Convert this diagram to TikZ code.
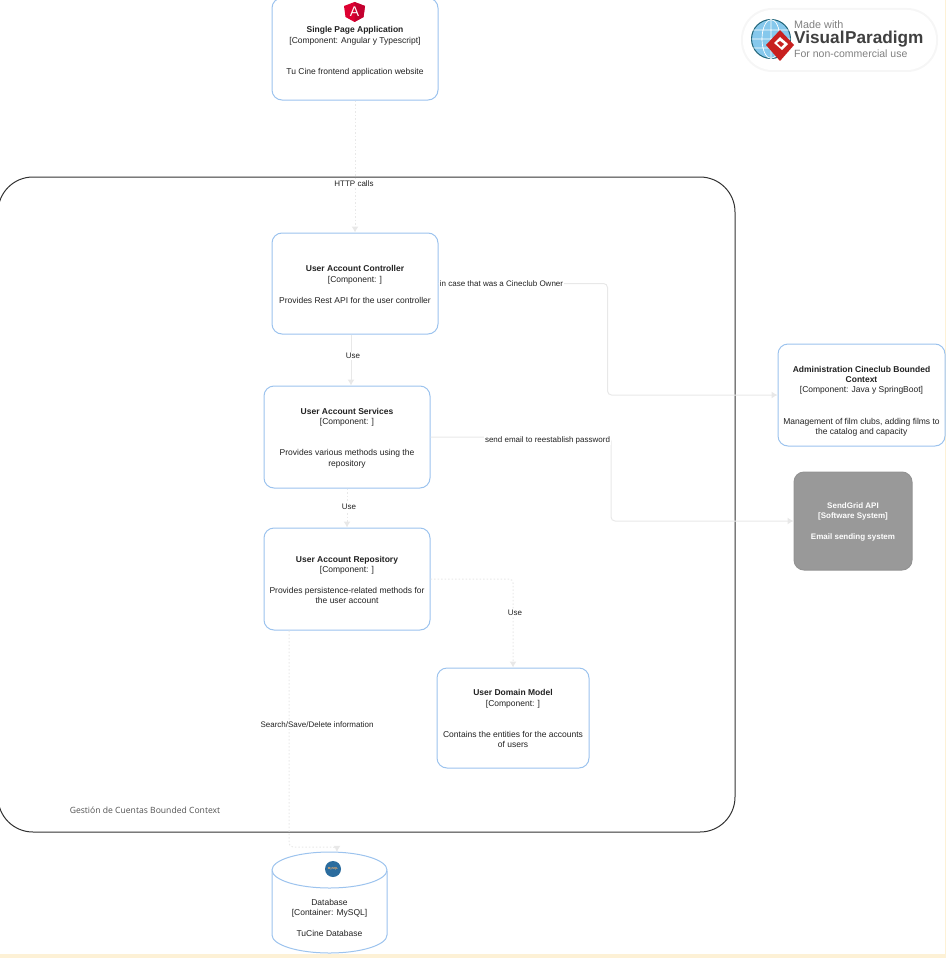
\documentclass[tikz,border=0pt]{standalone}
\usepackage{fontspec}
\setmainfont{Liberation Sans}
\newfontfamily\framefont{Open Sans}
\usetikzlibrary{arrows.meta}
\definecolor{boxblue}{HTML}{9CC3EE}
\definecolor{edgegray}{HTML}{E8E8E8}
\definecolor{framegray}{HTML}{333333}
\definecolor{inkgray}{HTML}{222222}
\definecolor{sendgray}{HTML}{999999}
\definecolor{stripcol}{HTML}{FDF1D6}
\definecolor{angularred}{HTML}{DD0031}
\definecolor{angulardark}{HTML}{C3002F}
\definecolor{mysqlblue}{HTML}{2B6C9E}
\definecolor{vpred}{HTML}{C8201F}
\definecolor{vpblue}{HTML}{86C8EC}
\definecolor{vpteal}{HTML}{1F6478}
\newcommand{\comptitle}[1]{\rule{0pt}{8pt}\textbf{#1}}
\tikzset{
    comp/.style={draw=boxblue,line width=1pt,fill=white,rounded corners=10pt,align=center,
        text=inkgray,font=\fontsize{8.5}{10.4}\selectfont,inner sep=0pt},
    edge/.style={draw=edgegray,line width=1pt,->,rounded corners=4pt},
    dotedge/.style={edge,dash pattern=on 1.5pt off 2pt},
    edgelabel/.style={fill=white,inner sep=1pt,text=inkgray,font=\fontsize{8}{10}\selectfont},
}
\begin{document}
\begin{tikzpicture}[x=1pt,y=-1pt,>={Latex[length=6pt,width=7pt]}]
    \useasboundingbox (0,0) rectangle (946,958);
    \clip (0,0) rectangle (946,958);
    \fill[stripcol] (0,954) rectangle (946,958);
    \fill[stripcol] (945,0) rectangle (946,958);
    % context frame
    \node[draw=framegray,line width=1pt,rounded corners=35pt,minimum width=737pt,minimum height=655pt,inner sep=0pt] (context) at (366.5,504.5) {};
    \node[text=framegray!85,font=\framefont\fontsize{8.6}{10}\selectfont,inner sep=0pt] (contextname) at (145,810) {Gestión de Cuentas Bounded Context};
    % components
    \node[comp,minimum width=166pt,minimum height=102pt] (spa) at (355,49) {\rule{0pt}{11pt}\textbf{Single Page Application}\\{[Component: Angular y Typescript]}\\ \mbox{}\\ \mbox{}\\Tu Cine frontend application website};
    \node[comp,minimum width=166pt,minimum height=101pt] (ctrl) at (355,283.5) {\comptitle{User Account Controller}\\{[Component: ]}\\ \mbox{}\\Provides Rest API for the user controller};
    \node[comp,minimum width=166pt,minimum height=102pt] (serv) at (347,437) {\comptitle{User Account Services}\\{[Component: ]}\\ \mbox{}\\ \mbox{}\\Provides various methods using the\\repository};
    \node[comp,minimum width=166pt,minimum height=102pt] (repo) at (347,579) {\comptitle{User Account Repository}\\{[Component: ]}\\ \mbox{}\\Provides persistence-related methods for\\the user account};
    \node[comp,minimum width=152pt,minimum height=100pt] (domain) at (513,718) {\comptitle{User Domain Model}\\{[Component: ]}\\ \mbox{}\\ \mbox{}\\Contains the entities for the accounts\\of users};
    \node[comp,minimum width=167pt,minimum height=102pt] (admin) at (861.5,395) {\rule{0pt}{8pt}\\\comptitle{Administration Cineclub Bounded}\\\textbf{Context}\\{[Component: Java y SpringBoot]}\\ \mbox{}\\ \mbox{}\\Management of film clubs, adding films to\\the catalog and capacity};
    \node[comp,draw=gray!85,fill=sendgray,text=white,font=\fontsize{8}{10.4}\selectfont,minimum width=118pt,minimum height=98pt] (send) at (853,521) {\comptitle{SendGrid API}\\\textbf{[Software System]}\\ \mbox{}\\\textbf{Email sending system}};
    % database
    \node[minimum width=115pt,minimum height=101pt,inner sep=0pt] (db) at (329.5,902.5) {};
    \draw[boxblue,line width=1pt,fill=white] (272,871) -- (272,935) arc (180:360:57.5pt and 18pt) -- (387,871);
    \draw[boxblue,line width=1pt,fill=white] (329.5,870) ellipse (57.5pt and 18pt);
    \node[align=center,text=inkgray,font=\fontsize{8.5}{10.4}\selectfont,inner sep=0pt] (dbtext) at (329.5,918) {Database\\{[Container: MySQL]}\\ \mbox{}\\TuCine Database};
    % icons
    \fill[angularred] (354.5,2)--(365,6)--(363.5,17)--(354.5,22)--(345.5,17)--(344,6)--cycle;
    \fill[angulardark] (354.5,2)--(365,6)--(363.5,17)--(354.5,22)--cycle;
    \node[text=white,font=\fontsize{14}{14}\selectfont,inner sep=0pt] (angular) at (354.5,12) {A};
    \node[circle,fill=mysqlblue,minimum size=16pt,inner sep=0pt,text=orange!60!white,font=\bfseries\fontsize{3}{3}\selectfont] (mysql) at (333,869) {MySQL};
    % connectors
    \coordinate (bendadmin) at (607.5,0);
    \coordinate (bendsend) at (611,0);
    \coordinate (benddb) at (289,847);
    \draw[dotedge] (spa) -- (ctrl);
    \draw[edge] ([xshift=-4pt]ctrl.south) -- ([xshift=4pt]serv.north);
    \draw[dotedge] (serv) -- (repo);
    \draw[dotedge] (repo.east) -| (domain.north);
    \draw[edge] (ctrl.east) -- (bendadmin |- ctrl.east) -- (bendadmin |- admin.west) -- (admin.west);
    \draw[edge] (serv.east) -- (bendsend |- serv.east) -- (bendsend |- send.west) -- (send.west);
    \draw[dotedge] ([xshift=-58pt]repo.south) -- (benddb) -| ([xshift=7.5pt]db.north);
    % connector labels
    \node[edgelabel] (httplabel) at (354,184) {HTTP calls};
    \node[edgelabel] (uselabela) at (353,356) {Use};
    \node[edgelabel] (uselabelb) at (349,507) {Use};
    \node[edgelabel] (uselabelc) at (515,613) {Use};
    \node[edgelabel] (ownerlabel) at (501.5,284) {in case that was a Cineclub Owner};
    \node[edgelabel] (maillabel) at (547.5,440) {send email to reestablish password};
    \node[edgelabel] (searchlabel) at (317,725) {Search/Save/Delete information};
    % badge
    \fill[gray!7,rounded corners=31pt] (741,8) rectangle (938,72);
    \node[fill=white,rounded corners=29pt,minimum width=193pt,minimum height=60pt,inner sep=0pt] (badge) at (839.5,40) {};
    \draw[vpteal,line width=1pt,fill=vpblue] (771,39) circle (19.5pt);
    \draw[white,line width=.7pt] (751.5,39)--(790.5,39) (751.5,30)--(790.5,30) (751.5,48)--(790.5,48) (771,19.5)--(771,58.5) (771,19.5) arc (90:270:9pt and 19.5pt) (771,19.5) arc (90:-90:9pt and 19.5pt);
    \fill[vpred] (780,30)--(794,45)--(780,61)--(766,45)--cycle;
    \fill[white] (780,37)--(788,44)--(782,50)--(774,43)--cycle;
    \fill[vpred] (780,41)--(784,44)--(781,47)--(777,43)--cycle;
    \node[anchor=west,text=gray,font=\fontsize{10.8}{12}\selectfont,inner sep=0pt] (vpmade) at (794,25) {Made with};
    \node[anchor=west,text=black!75,font=\bfseries\fontsize{17.2}{19}\selectfont,inner sep=0pt] (vpname) at (794,39.5) {Visual\hspace{.5pt}Paradigm};
    \node[anchor=west,text=gray,font=\fontsize{10.5}{12}\selectfont,inner sep=0pt] (vpuse) at (794,54) {For non-commercial use};
\end{tikzpicture}
\end{document}
